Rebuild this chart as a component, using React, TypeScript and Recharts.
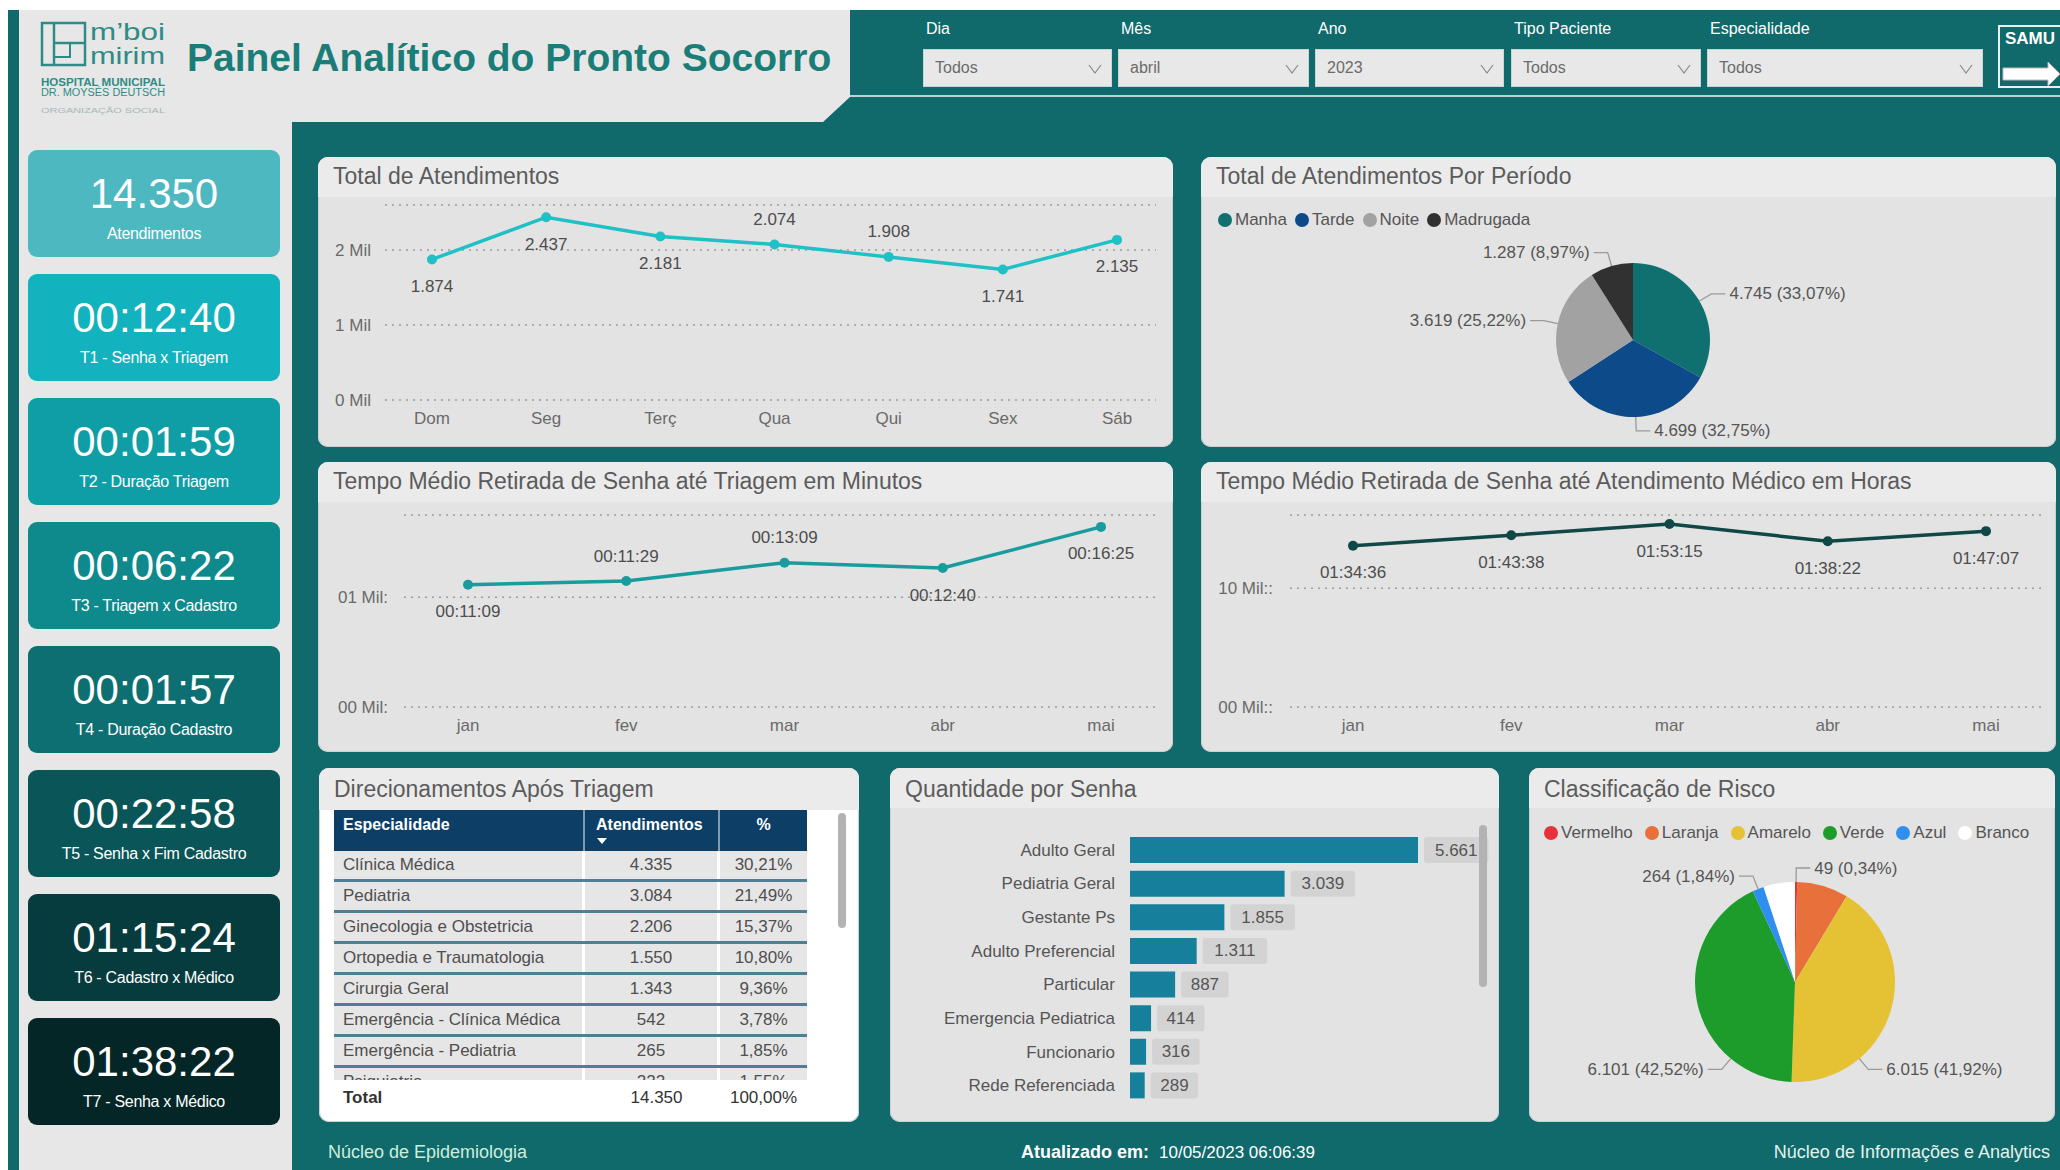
import React from "react";
import { LineChart, Line, XAxis, YAxis, CartesianGrid, PieChart, Pie, Cell, BarChart, Bar, LabelList } from "recharts";

const FONT = '"Liberation Sans", Arial, Helvetica, sans-serif';
const TEAL = "#10696a";
const RAD = Math.PI / 180;

// ---- KPI column
const kpiValues = ["14.350", "00:12:40", "00:01:59", "00:06:22", "00:01:57", "00:22:58", "01:15:24", "01:38:22"];
const kpiLabels = [
  "Atendimentos",
  "T1 - Senha x Triagem",
  "T2 - Duração Triagem",
  "T3 - Triagem x Cadastro",
  "T4 - Duração Cadastro",
  "T5 -  Senha x Fim Cadastro",
  "T6 - Cadastro x Médico",
  "T7 - Senha x Médico",
];
const kpiColors = ["#4db8c0", "#12b2be", "#0f9ea6", "#0e898c", "#0d6f71", "#0a5557", "#073c3e", "#052627"];

// ---- filters
const filterLabels = ["Dia", "Mês", "Ano", "Tipo Paciente", "Especialidade"];
const filterValues = ["Todos", "abril", "2023", "Todos", "Todos"];

// ---- Total de Atendimentos (dia da semana)
const weekDays = ["Dom", "Seg", "Terç", "Qua", "Qui", "Sex", "Sáb"];
const weekTotals = [1874, 2437, 2181, 2074, 1908, 1741, 2135];
const weekLabelsAbove = ["Qua", "Qui"];

// ---- Por período
const periodNames = ["Manha", "Tarde", "Noite", "Madrugada"];
const periodValues = [4745, 4699, 3619, 1287];
const periodColors = ["#10706f", "#0c4a8a", "#a2a2a2", "#313131"];

// ---- tempos médios por mês
const months = ["jan", "fev", "mar", "abr", "mai"];
const triagemTimes = ["00:11:09", "00:11:29", "00:13:09", "00:12:40", "00:16:25"];
const triagemLabelsAbove = ["fev", "mar"];
const medicoTimes = ["01:34:36", "01:43:38", "01:53:15", "01:38:22", "01:47:07"];

// ---- Direcionamentos após triagem
const especialidades = [
  "Clínica Médica",
  "Pediatria",
  "Ginecologia e Obstetricia",
  "Ortopedia e Traumatologia",
  "Cirurgia Geral",
  "Emergência - Clínica Médica",
  "Emergência - Pediatria",
  "Psiquiatria",
];
const especialidadeAtend = [4335, 3084, 2206, 1550, 1343, 542, 265, 222];
const especialidadePct = ["30,21%", "21,49%", "15,37%", "10,80%", "9,36%", "3,78%", "1,85%", "1,55%"];
const especialidadeTotal = 14350;
const especialidadeTotalPct = "100,00%";

// ---- Quantidade por senha
const senhaNames = ["Adulto Geral", "Pediatria Geral", "Gestante Ps", "Adulto Preferencial", "Particular", "Emergencia Pediatrica", "Funcionario", "Rede Referenciada"];
const senhaValues = [5661, 3039, 1855, 1311, 887, 414, 316, 289];

// ---- Classificação de risco
const riscoNames = ["Vermelho", "Laranja", "Amarelo", "Verde", "Azul", "Branco"];
const riscoValues = [49, 1190, 6015, 6101, 264, 731];
const riscoColors = ["#e5323b", "#e8703a", "#e4c234", "#1d9b2b", "#2f8ff0", "#ffffff"];
const riscoLabeled = ["Vermelho", "Amarelo", "Verde", "Azul"];

const fmtInt = (n: number) => String(n).replace(/\B(?=(\d{3})+(?!\d))/g, ".");
const fmtPct = (p: number) => (p * 100).toFixed(2).replace(".", ",") + "%";
const toMinutes = (t: string) => {
  const [h, m, s] = t.split(":").map(Number);
  return h * 60 + m + s / 60;
};

const weekData = weekDays.map((d, i) => ({ cat: d, v: weekTotals[i], label: fmtInt(weekTotals[i]), up: weekLabelsAbove.includes(d) }));
const triagemData = months.map((m, i) => ({ cat: m, v: toMinutes(triagemTimes[i]), label: triagemTimes[i], up: triagemLabelsAbove.includes(m) }));
const medicoData = months.map((m, i) => ({ cat: m, v: toMinutes(medicoTimes[i]), label: medicoTimes[i], up: false }));
const periodData = periodNames.map((n, i) => ({ name: n, value: periodValues[i] }));
const riscoData = riscoNames.map((n, i) => ({ name: n, value: riscoValues[i] }));
const senhaData = senhaNames.map((n, i) => ({ name: n, value: senhaValues[i] }));

const tickStyle = { fontSize: 17, fill: "#6a6a6a", fontFamily: FONT };

type TrendProps = {
  data: { cat: string; v: number; label: string; up: boolean }[];
  color: string;
  margin: { top: number; right: number; bottom: number; left: number };
  yWidth: number;
  yTickMargin: number;
  yDomain: [number, number];
  yTicks: number[];
  yTickLabels: string[];
  padding: { left: number; right: number };
};

function TrendChart(p: TrendProps) {
  const renderDot = (d: any) => {
    const { cx, cy, payload, index } = d;
    return (
      <g key={`pt-${index}`}>
        <circle cx={cx} cy={cy} r={5} fill={p.color} />
        <text x={cx} y={payload.up ? cy - 25 : cy + 27} textAnchor="middle" dominantBaseline="central" fontSize={17} fill="#4d4d4d" fontFamily={FONT}>
          {payload.label}
        </text>
      </g>
    );
  };
  return (
    <LineChart width={855} height={245} data={p.data} margin={p.margin}>
      <CartesianGrid vertical={false} stroke="#9c9c9c" strokeDasharray="2 5" strokeWidth={1.6} />
      <XAxis dataKey="cat" axisLine={false} tickLine={false} tickSize={0} tickMargin={12} height={30} padding={p.padding} interval={0} tick={tickStyle} />
      <YAxis
        type="number"
        domain={p.yDomain}
        ticks={p.yTicks}
        tickFormatter={(v: number) => p.yTickLabels[p.yTicks.indexOf(v)] ?? ""}
        width={p.yWidth}
        axisLine={false}
        tickLine={false}
        tickSize={0}
        tickMargin={p.yTickMargin}
        tick={tickStyle}
      />
      <Line type="linear" dataKey="v" stroke={p.color} strokeWidth={3.5} dot={renderDot} activeDot={false} isAnimationActive={false} />
    </LineChart>
  );
}

function pieLabel(only: string[] | null, bigToBottom: boolean) {
  return (props: any) => {
    const { cx, cy, midAngle, outerRadius, percent, value } = props;
    const name = props.payload?.name ?? props.name;
    if (only && !only.includes(name)) return null;
    let ang = midAngle;
    if (bigToBottom && percent * 360 > 100) ang = Math.cos(midAngle * RAD) >= 0 ? -50 : -130;
    const cos = Math.cos(ang * RAD);
    const sin = Math.sin(ang * RAD);
    const x1 = cx + outerRadius * cos;
    const y1 = cy - outerRadius * sin;
    const x2 = cx + (outerRadius + 14) * cos;
    const y2 = cy - (outerRadius + 14) * sin;
    const right = cos >= 0;
    const x3 = x2 + (right ? 14 : -14);
    return (
      <g>
        <polyline points={`${x1},${y1} ${x2},${y2} ${x3},${y2}`} fill="none" stroke="#9a9a9a" strokeWidth={1.3} />
        <text x={x3 + (right ? 4 : -4)} y={y2} textAnchor={right ? "start" : "end"} dominantBaseline="central" fontSize={17} fill="#555" fontFamily={FONT}>
          {`${fmtInt(value)} (${fmtPct(percent)})`}
        </text>
      </g>
    );
  };
}

function renderSenhaLabel(props: any) {
  const { x, y, width, height, value } = props;
  const txt = fmtInt(Number(value));
  const w = txt.length * 8.5 + 22;
  const bx = Number(x) + Number(width) + 6;
  return (
    <g>
      <rect x={bx} y={y} width={w} height={height} rx={3} fill="#d3d3d3" />
      <text x={bx + w / 2} y={Number(y) + Number(height) / 2} textAnchor="middle" dominantBaseline="central" fontSize={17} fill="#555" fontFamily={FONT}>
        {txt}
      </text>
    </g>
  );
}

function Panel({ x, y, w, h, title, body = "#e3e3e3", band = 40, titleTop = 5, children }: any) {
  return (
    <div style={{ position: "absolute", left: x, top: y, width: w, height: h, borderRadius: 10, background: body, overflow: "hidden", boxShadow: "inset 0 0 0 1px #cfcfcf" }}>
      <div style={{ position: "absolute", left: 0, top: 0, width: w, height: band, background: "#ebebeb" }} />
      <div style={{ position: "absolute", left: 15, top: titleTop, fontSize: 23, lineHeight: "28px", color: "#5b5b5b", whiteSpace: "nowrap" }}>{title}</div>
      {children}
    </div>
  );
}

function Legend({ names, colors, left, top, gap }: { names: string[]; colors: string[]; left: number; top: number; gap: number }) {
  return (
    <div style={{ position: "absolute", left, top, display: "flex", alignItems: "center", fontSize: 17, color: "#555", lineHeight: "20px", whiteSpace: "nowrap" }}>
      {names.map((n, i) => (
        <div key={n} style={{ display: "flex", alignItems: "center", marginRight: gap }}>
          <span style={{ width: 14, height: 14, borderRadius: 7, background: colors[i], display: "inline-block", marginRight: 3 }} />
          {n}
        </div>
      ))}
    </div>
  );
}

function Backdrop() {
  return (
    <svg width={2060} height={1170} style={{ position: "absolute", left: 0, top: 0 }}>
      <rect x={0} y={0} width={2060} height={1170} fill="#ffffff" />
      <rect x={8} y={10} width={2052} height={1160} fill="#e7e7e7" />
      <rect x={8} y={10} width={11} height={1160} fill={TEAL} />
      <polygon points="292,122 823,122 850,97 2060,97 2060,1170 292,1170" fill={TEAL} />
      <rect x={850} y={10} width={1210} height={85} fill={TEAL} />
      <line x1={850} y1={96} x2={2060} y2={96} stroke="#b9d3d3" strokeWidth={2} />
      {/* logo */}
      <rect x={42} y={23} width={43} height={42} fill="none" stroke="#2e8c86" strokeWidth={2.5} />
      <line x1={54} y1={23} x2={54} y2={65} stroke="#2e8c86" strokeWidth={2.5} />
      <line x1={54} y1={43} x2={85} y2={43} stroke="#2e8c86" strokeWidth={2.5} />
      <rect x={54} y={43} width={16} height={14} fill="none" stroke="#2e8c86" strokeWidth={2} />
      <text x={90} y={40} fontSize={24} fill="#2e8c86" textLength={75} lengthAdjust="spacingAndGlyphs" fontFamily={FONT}>m’boi</text>
      <text x={90} y={64} fontSize={24} fill="#2e8c86" textLength={75} lengthAdjust="spacingAndGlyphs" fontFamily={FONT}>mirim</text>
      <text x={41} y={86} fontSize={10} fontWeight="bold" fill="#2e8c86" textLength={124} lengthAdjust="spacingAndGlyphs" fontFamily={FONT}>HOSPITAL MUNICIPAL</text>
      <text x={41} y={96} fontSize={10} fill="#2e8c86" textLength={124} lengthAdjust="spacingAndGlyphs" fontFamily={FONT}>DR. MOYSÉS DEUTSCH</text>
      <text x={41} y={113} fontSize={7} fill="#a5b8b6" textLength={124} lengthAdjust="spacingAndGlyphs" fontFamily={FONT}>ORGANIZAÇÃO SOCIAL</text>
      <text x={187} y={71} fontSize={39} fontWeight="bold" fill="#1b7d78" fontFamily={FONT}>Painel Analítico do Pronto Socorro</text>
      {/* SAMU button */}
      <rect x={1999} y={26} width={80} height={61} fill="none" stroke="#e8f0f0" strokeWidth={2} />
      <text x={2005} y={44} fontSize={17} fontWeight="bold" fill="#ffffff" fontFamily={FONT}>SAMU</text>
      <polygon points="2003,68 2048,68 2048,62 2060,74 2048,86 2048,80 2003,80" fill="#ffffff" stroke="#bbbbbb" strokeWidth={1} />
    </svg>
  );
}

const filterLefts = [923, 1118, 1315, 1511, 1707];
const filterWidths = [189, 191, 189, 190, 276];

function Filters() {
  return (
    <>
      {filterLabels.map((l, i) => (
        <React.Fragment key={l}>
          <div style={{ position: "absolute", left: filterLefts[i] + 3, top: 19, fontSize: 16, lineHeight: "20px", color: "#ffffff" }}>{l}</div>
          <div style={{ position: "absolute", left: filterLefts[i], top: 49, width: filterWidths[i], height: 38, background: "#e8e8e8", boxShadow: "inset 0 0 0 1px #c9d6d6" }}>
            <div style={{ position: "absolute", left: 12, top: 9, fontSize: 16, lineHeight: "20px", color: "#6b6b6b" }}>{filterValues[i]}</div>
            <svg width={14} height={10} style={{ position: "absolute", right: 10, top: 15 }}>
              <polyline points="1,1 7,9 13,1" fill="none" stroke="#8a8a8a" strokeWidth={1.2} />
            </svg>
          </div>
        </React.Fragment>
      ))}
    </>
  );
}

function KpiColumn() {
  return (
    <>
      {kpiValues.map((v, i) => (
        <div key={i} style={{ position: "absolute", left: 28, top: 150 + i * 124, width: 252, height: 107, borderRadius: 9, background: kpiColors[i], color: "#ffffff", textAlign: "center" }}>
          <div style={{ position: "absolute", left: 0, right: 0, top: 21, fontSize: 42, lineHeight: "46px" }}>{v}</div>
          <div style={{ position: "absolute", left: 0, right: 0, top: 74, fontSize: 16, lineHeight: "20px", letterSpacing: -0.3, whiteSpace: "nowrap" }}>{kpiLabels[i]}</div>
        </div>
      ))}
    </>
  );
}

function EspecialidadeTable() {
  const colW = [251, 135, 87];
  const sep = "3px solid #ffffff";
  return (
    <>
      <div style={{ position: "absolute", left: 15, top: 42, width: 473, height: 270, overflow: "hidden", background: "#ffffff" }}>
        <div style={{ display: "flex", height: 41, background: "#0d3f66", color: "#ffffff", fontWeight: "bold", fontSize: 16, lineHeight: "20px" }}>
          <div style={{ width: colW[0], boxSizing: "border-box", borderRight: "2px solid #7f9bb2", padding: "5px 0 0 9px" }}>Especialidade</div>
          <div style={{ width: colW[1], boxSizing: "border-box", borderRight: "2px solid #7f9bb2", padding: "5px 0 0 11px", position: "relative" }}>
            Atendimentos
            <svg width={10} height={6} style={{ position: "absolute", left: 12, top: 28 }}>
              <polygon points="0,0 10,0 5,6" fill="#ffffff" />
            </svg>
          </div>
          <div style={{ width: colW[2], textAlign: "center", paddingTop: 5 }}>%</div>
        </div>
        {especialidades.map((e, i) => (
          <div key={e} style={{ display: "flex", height: 31, boxSizing: "border-box", borderBottom: "3px solid #4f7e95", fontSize: 17, lineHeight: "28px", color: "#4f4f4f" }}>
            <div style={{ width: colW[0], boxSizing: "border-box", background: "#e6e6e6", borderRight: sep, paddingLeft: 9, whiteSpace: "nowrap", overflow: "hidden" }}>{e}</div>
            <div style={{ width: colW[1], boxSizing: "border-box", background: "#e6e6e6", borderRight: sep, textAlign: "center" }}>{fmtInt(especialidadeAtend[i])}</div>
            <div style={{ width: colW[2], background: "#e6e6e6", textAlign: "center" }}>{especialidadePct[i]}</div>
          </div>
        ))}
      </div>
      <div style={{ position: "absolute", left: 15, top: 312, width: 473, height: 36, display: "flex", fontSize: 17, lineHeight: "36px", color: "#333" }}>
        <div style={{ width: colW[0], paddingLeft: 9, fontWeight: "bold", boxSizing: "border-box" }}>Total</div>
        <div style={{ width: colW[1], textAlign: "center", paddingLeft: 8, boxSizing: "border-box" }}>{fmtInt(especialidadeTotal)}</div>
        <div style={{ width: colW[2], textAlign: "center" }}>{especialidadeTotalPct}</div>
      </div>
      <div style={{ position: "absolute", left: 519, top: 45, width: 8, height: 115, borderRadius: 4, background: "#b3b3b3" }} />
    </>
  );
}

export default function App() {
  return (
    <div style={{ position: "fixed", left: 0, top: 0, width: 2060, height: 1170, overflow: "hidden", background: "#ffffff", fontFamily: FONT }}>
      <Backdrop />
      <Filters />
      <KpiColumn />

      <Panel x={318} y={157} w={855} h={290} title="Total de Atendimentos">
        <div style={{ position: "absolute", left: 0, top: 45 }}>
          <TrendChart
            data={weekData}
            color="#1fc0c6"
            margin={{ top: 3, right: 17, bottom: 17, left: 0 }}
            yWidth={67}
            yTickMargin={14}
            yDomain={[0, 2600]}
            yTicks={[0, 1000, 2000]}
            yTickLabels={["0 Mil", "1 Mil", "2 Mil"]}
            padding={{ left: 47, right: 39 }}
          />
        </div>
      </Panel>

      <Panel x={1201} y={157} w={855} h={290} title="Total de Atendimentos Por Período">
        <Legend names={periodNames} colors={periodColors} left={17} top={53} gap={8} />
        <div style={{ position: "absolute", left: 0, top: 45 }}>
          <PieChart width={855} height={245}>
            <Pie
              data={periodData}
              dataKey="value"
              nameKey="name"
              cx={427}
              cy={133}
              outerRadius={77}
              startAngle={90}
              endAngle={-270}
              stroke="none"
              label={pieLabel(null, false)}
              labelLine={false}
              isAnimationActive={false}
            >
              {periodData.map((d, i) => (
                <Cell key={d.name} fill={periodColors[i]} />
              ))}
            </Pie>
          </PieChart>
        </div>
      </Panel>

      <Panel x={318} y={462} w={855} h={290} title="Tempo Médio Retirada de Senha até Triagem em Minutos">
        <div style={{ position: "absolute", left: 0, top: 45 }}>
          <TrendChart
            data={triagemData}
            color="#1a9c9e"
            margin={{ top: 8, right: 14, bottom: 15, left: 0 }}
            yWidth={86}
            yTickMargin={16}
            yDomain={[0, 17.5]}
            yTicks={[0, 10]}
            yTickLabels={["00 Mil:", "01 Mil:"]}
            padding={{ left: 64, right: 58 }}
          />
        </div>
      </Panel>

      <Panel x={1201} y={462} w={855} h={290} title="Tempo Médio Retirada de Senha até Atendimento Médico em Horas">
        <div style={{ position: "absolute", left: 0, top: 45 }}>
          <TrendChart
            data={medicoData}
            color="#0f4846"
            margin={{ top: 8, right: 14, bottom: 15, left: 0 }}
            yWidth={89}
            yTickMargin={17}
            yDomain={[-44, 121]}
            yTicks={[-44, 58]}
            yTickLabels={["00 Mil::", "10 Mil::"]}
            padding={{ left: 63, right: 56 }}
          />
        </div>
      </Panel>

      <Panel x={319} y={768} w={540} h={354} title="Direcionamentos Após Triagem" body="#ffffff" band={42} titleTop={7}>
        <EspecialidadeTable />
      </Panel>

      <Panel x={890} y={768} w={609} h={354} title="Quantidade por Senha" titleTop={7}>
        <div style={{ position: "absolute", left: 0, top: 32 }}>
          <BarChart width={600} height={310} data={senhaData} layout="vertical" margin={{ top: 33, right: 72, bottom: 8, left: 0 }}>
            <XAxis type="number" hide domain={[0, 5661]} />
            <YAxis type="category" dataKey="name" width={240} axisLine={false} tickLine={false} tickSize={0} tickMargin={15} interval={0} tick={{ fontSize: 17, fill: "#555", fontFamily: FONT }} />
            <Bar dataKey="value" fill="#16809c" barSize={26} isAnimationActive={false}>
              <LabelList dataKey="value" content={renderSenhaLabel} />
            </Bar>
          </BarChart>
        </div>
        <div style={{ position: "absolute", left: 589, top: 57, width: 8, height: 162, borderRadius: 4, background: "#b3b3b3" }} />
      </Panel>

      <Panel x={1529} y={768} w={526} h={354} title="Classificação de Risco" titleTop={7}>
        <Legend names={riscoNames} colors={riscoColors} left={15} top={55} gap={12} />
        <div style={{ position: "absolute", left: 0, top: 45 }}>
          <PieChart width={526} height={309}>
            <Pie
              data={riscoData}
              dataKey="value"
              nameKey="name"
              cx={261}
              cy={164}
              outerRadius={100}
              startAngle={90}
              endAngle={-270}
              stroke="none"
              label={pieLabel(riscoLabeled, true)}
              labelLine={false}
              isAnimationActive={false}
            >
              {riscoData.map((d, i) => (
                <Cell key={d.name} fill={riscoColors[i]} />
              ))}
            </Pie>
          </PieChart>
        </div>
      </Panel>

      <div style={{ position: "absolute", left: 328, top: 1141, fontSize: 18, lineHeight: "22px", color: "#cdeedd" }}>Núcleo de Epidemiologia</div>
      <div style={{ position: "absolute", left: 1021, top: 1141, fontSize: 18, lineHeight: "22px", color: "#ffffff", whiteSpace: "nowrap" }}>
        <b>Atualizado em:</b>
        <span style={{ fontSize: 17, marginLeft: 10 }}>10/05/2023 06:06:39</span>
      </div>
      <div style={{ position: "absolute", right: 10, top: 1141, fontSize: 18, lineHeight: "22px", color: "#e3f3ec" }}>Núcleo de Informações e Analytics</div>
    </div>
  );
}
